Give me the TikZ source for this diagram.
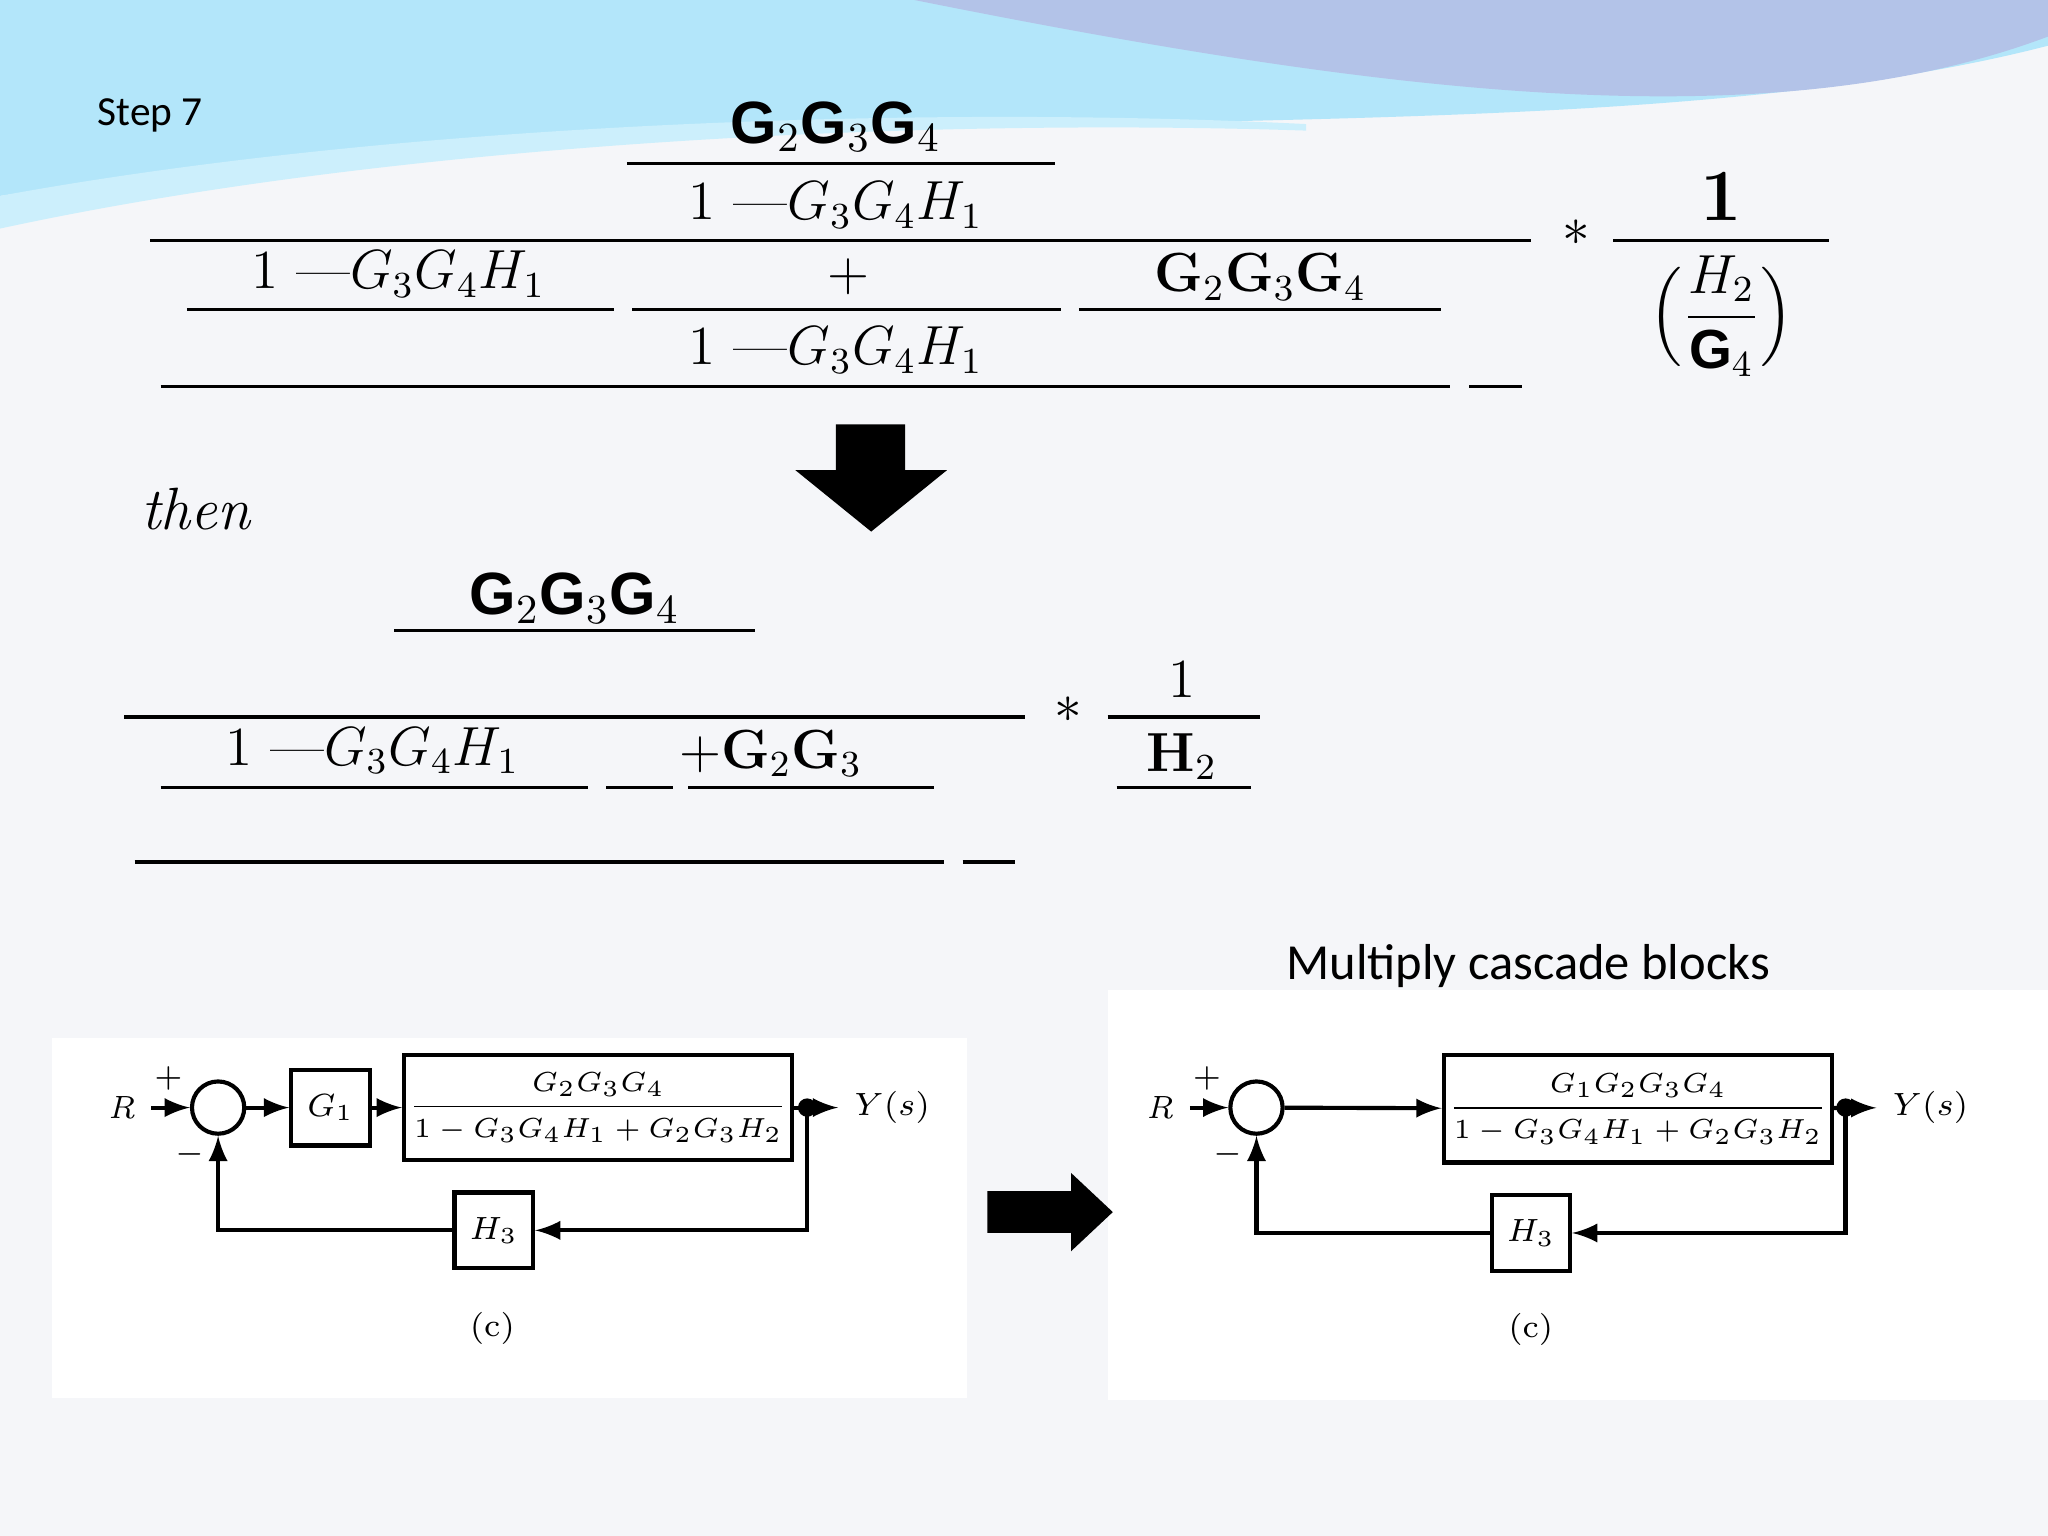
\documentclass[tikz,border=0pt]{standalone}
\usepackage{amsmath}
\usepackage{fontspec}
\newfontfamily\sansf{Carlito}
\newfontfamily\boldf{Liberation Sans}[BoldFont={Liberation Sans Bold}]
\usetikzlibrary{positioning,arrows,shapes.arrows}
\definecolor{slide}{HTML}{F5F6F9}
\tikzstyle{rule}   = [line width=0.7pt]
\tikzstyle{big}    = [font=\fontsize{13}{13}\selectfont\boldf\bfseries]
\tikzstyle{eq}     = [font=\fontsize{12}{12}\selectfont]
\tikzstyle{blk}    = [draw, line width=0.9pt, minimum width=0.6cm, minimum height=0.58cm, inner sep=1pt, font=\scriptsize]
\tikzstyle{sig}    = [line width=0.9pt,->,>=latex]
\tikzstyle{sumc}   = [draw, circle, line width=0.9pt, minimum size=0.4cm, inner sep=0pt]
\begin{document}
\begin{tikzpicture}[x=0.01cm,y=-0.01cm]
\useasboundingbox (0,0) rectangle (1568,1176);
\fill[slide] (0,0) rectangle (1568,1176);
% top waves
\fill[cyan!30] (0,0) -- (1568,0) -- (1568,35) .. controls (1200,130) and (600,60) .. (0,150) -- cycle;
\fill[cyan!45!blue!30] (700,0) -- (1568,0) -- (1568,28) .. controls (1350,110) and (1050,70) .. (700,0) -- cycle;
\fill[cyan!20] (0,150) .. controls (300,95) and (700,80) .. (1000,95) -- (1000,100) .. controls (700,90) and (300,110) .. (0,175) -- cycle;
\node[font=\fontsize{9}{9}\selectfont\sansf] (step) at (115,88) {Step 7};

% first expression
\node[big] (n1) at (640,97) {G$_2$G$_3$G$_4$};
\draw[rule] (480,125) -- (808,125);
\node[eq] (d1) at (640,157) {$1$ ---$G_3G_4H_1$};
\draw[rule] (115,184) -- (1172,184);
\node[eq] (st1) at (1207,178) {$*$};
\node[font=\fontsize{16}{16}\selectfont\bfseries] (one1) at (1318,150) {1};
\draw[rule] (1235,184) -- (1400,184);
\node[eq] (hg) at (1318,242) {$\Bigl(\dfrac{H_2}{\mbox{\boldf\bfseries G$_4$}}\Bigr)$};
\node[eq] (d2) at (305,210) {$1$ ---$G_3G_4H_1$};
\draw[rule] (143,237) -- (470,237);
\node[eq] (pl1) at (650,212) {$+$};
\draw[rule] (484,237) -- (812,237);
\node[font=\fontsize{12}{12}\selectfont\bfseries] (n2) at (965,212) {G$_2$G$_3$G$_4$};
\draw[rule] (826,237) -- (1103,237);
\node[eq] (d3) at (640,268) {$1$ ---$G_3G_4H_1$};
\draw[rule] (123,296) -- (1110,296);
\draw[rule] (1125,296) -- (1165,296);

% down arrow
\fill (640,325) -- (693,325) -- (693,360) -- (725,360) -- (667,407) -- (609,360) -- (640,360) -- cycle;
\node[font=\fontsize{13}{13}\selectfont\itshape] (then) at (150,390) {then};

% second expression
\node[big] (n3) at (440,458) {G$_2$G$_3$G$_4$};
\draw[rule] (302,483) -- (578,483);
\draw[rule] (95,549) -- (785,549);
\node[eq] (st2) at (818,543) {$*$};
\node[eq] (one2) at (905,520) {1};
\draw[rule] (848,549) -- (965,549);
\node[eq] (d4) at (285,575) {$1$ ---$G_3G_4H_1$};
\draw[rule] (123,603) -- (450,603);
\node[font=\fontsize{12}{12}\selectfont\bfseries] (d5) at (590,577) {$+$G$_2$G$_3$};
\draw[rule] (464,603) -- (515,603);
\draw[rule] (527,603) -- (715,603);
\node[font=\fontsize{12}{12}\selectfont\bfseries] (h2) at (905,579) {H$_2$};
\draw[rule] (855,603) -- (958,603);
\draw[rule] (103,660) -- (723,660);
\draw[rule] (737,660) -- (777,660);

\node[font=\fontsize{11}{11}\selectfont\sansf] (cap) at (1170,740) {Multiply cascade blocks};

% panels
\fill[white] (40,795) rectangle (740,1070);
\fill[white] (848,758) rectangle (1568,1072);

% left block diagram
\node[font=\scriptsize\itshape] (r1) at (93,848) {R};
\node[sumc] (s1) at (167,848) {};
\node[font=\scriptsize] at (129,826) {$+$};
\node[font=\scriptsize] at (145,884) {$-$};
\node[blk] (g1) at (253,848) {$G_1$};
\node[blk, minimum width=2.77cm, minimum height=0.8cm, font=\fontsize{6.5}{7}\selectfont] (f1) at (458,848) {$\dfrac{G_2G_3G_4}{1-G_3G_4H_1+G_2G_3H_2}$};
\node[font=\scriptsize] (y1) at (683,848) {$Y(s)$};
\node[blk] (h31) at (378,942) {$H_3$};
\coordinate (t1) at (618,848);
\draw[sig] (r1) -- (s1);
\draw[sig] (s1) -- (g1);
\draw[sig] (g1) -- (f1);
\draw[sig] (f1) -- (y1);
\fill (t1) circle (2pt);
\draw[sig] (t1) |- (h31);
\draw[sig] (h31) -| (s1);
\node[font=\scriptsize] (c1) at (377,1017) {(c)};

% middle arrow
\fill (756,912) -- (820,912) -- (820,898) -- (852,928) -- (820,958) -- (820,944) -- (756,944) -- cycle;

% right block diagram
\node[font=\scriptsize\itshape] (r2) at (888,848) {R};
\node[sumc] (s2) at (962,848) {};
\node[font=\scriptsize] at (924,826) {$+$};
\node[font=\scriptsize] at (940,884) {$-$};
\node[blk, minimum width=2.78cm, minimum height=0.82cm, font=\fontsize{6.5}{7}\selectfont] (f2) at (1254,849) {$\dfrac{G_1G_2G_3G_4}{1-G_3G_4H_1+G_2G_3H_2}$};
\node[font=\scriptsize] (y2) at (1478,848) {$Y(s)$};
\node[blk] (h32) at (1172,944) {$H_3$};
\coordinate (t2) at (1413,848);
\draw[sig] (r2) -- (s2);
\draw[sig] (s2) -- (f2);
\draw[sig] (f2) -- (y2);
\fill (t2) circle (2pt);
\draw[sig] (t2) |- (h32);
\draw[sig] (h32) -| (s2);
\node[font=\scriptsize] (c2) at (1172,1018) {(c)};
\end{tikzpicture}
\end{document}
